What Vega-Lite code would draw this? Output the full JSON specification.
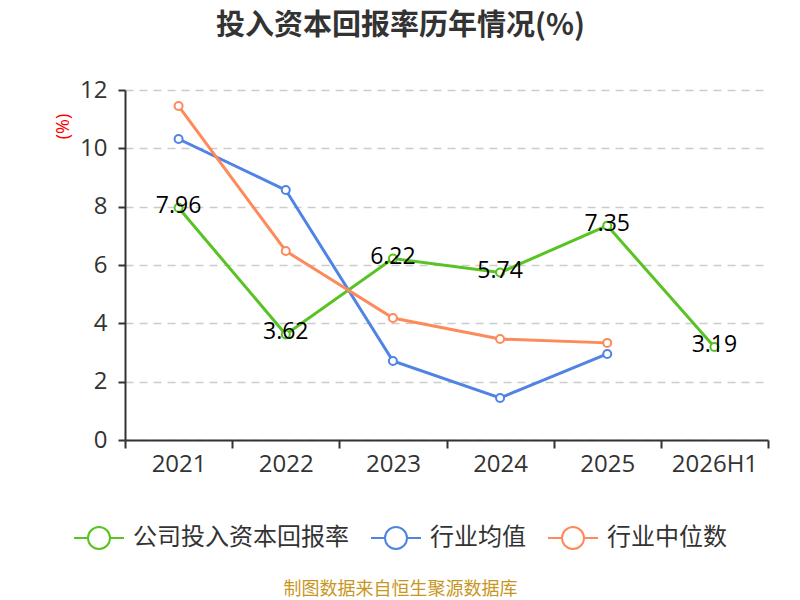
{
  "$schema": "https://vega.github.io/schema/vega-lite/v6.json",
  "width": 643,
  "height": 350,
  "autosize": {"type": "none"},
  "padding": {"left": 125, "top": 90, "right": 32, "bottom": 160},
  "background": "white",
  "title": {
    "text": "投入资本回报率历年情况(%)",
    "font": "Noto Sans CJK SC",
    "fontSize": 29,
    "fontWeight": "bold",
    "color": "#333333",
    "anchor": "middle",
    "frame": "group",
    "dx": -46,
    "offset": 37
  },
  "config": {
    "font": "Noto Sans CJK SC",
    "view": {"stroke": null}
  },
  "data": {
    "values": [
      {"year": "2021", "series": "公司投入资本回报率", "value": 7.96},
      {"year": "2022", "series": "公司投入资本回报率", "value": 3.62},
      {"year": "2023", "series": "公司投入资本回报率", "value": 6.22},
      {"year": "2024", "series": "公司投入资本回报率", "value": 5.74},
      {"year": "2025", "series": "公司投入资本回报率", "value": 7.35},
      {"year": "2026H1", "series": "公司投入资本回报率", "value": 3.19},
      {"year": "2021", "series": "行业均值", "value": 10.32},
      {"year": "2022", "series": "行业均值", "value": 8.57},
      {"year": "2023", "series": "行业均值", "value": 2.71},
      {"year": "2024", "series": "行业均值", "value": 1.44},
      {"year": "2025", "series": "行业均值", "value": 2.95},
      {"year": "2021", "series": "行业中位数", "value": 11.45},
      {"year": "2022", "series": "行业中位数", "value": 6.48},
      {"year": "2023", "series": "行业中位数", "value": 4.18},
      {"year": "2024", "series": "行业中位数", "value": 3.46},
      {"year": "2025", "series": "行业中位数", "value": 3.33}
    ]
  },
  "encoding": {
    "x": {
      "field": "year",
      "type": "nominal",
      "bandPosition": 0.5,
      "sort": ["2021", "2022", "2023", "2024", "2025", "2026H1"],
      "scale": {"type": "band", "paddingInner": 0, "paddingOuter": 0},
      "axis": {
        "title": "制图数据来自恒生聚源数据库",
        "titleFont": "Noto Sans CJK SC",
        "titleFontSize": 18,
        "titleFontWeight": "normal",
        "titleColor": "#c8961e",
        "titleX": 275,
        "titleY": 149,
        "titleBaseline": "middle",
        "labelAngle": 0,
        "labelFont": "Open Sans",
        "labelFontSize": 24,
        "labelColor": "#333333",
        "labelPadding": 4,
        "domainColor": "#333333",
        "domainWidth": 2,
        "tickColor": "#333333",
        "tickWidth": 2,
        "tickSize": 8,
        "tickBand": "extent",
        "grid": false
      }
    },
    "y": {
      "field": "value",
      "type": "quantitative",
      "scale": {"domain": [0, 12], "nice": false},
      "axis": {
        "values": [0, 2, 4, 6, 8, 10, 12],
        "title": "(%)",
        "titleFont": "Open Sans",
        "titleColor": "#ff0000",
        "titleFontSize": 18,
        "titleFontWeight": "normal",
        "titleX": -62,
        "titleY": 36,
        "titleAngle": 270,
        "titleAlign": "center",
        "titleBaseline": "middle",
        "labelFont": "Open Sans",
        "labelFontSize": 24,
        "labelColor": "#333333",
        "labelPadding": 11,
        "domainColor": "#333333",
        "domainWidth": 2,
        "tickColor": "#333333",
        "tickWidth": 2,
        "tickSize": 7,
        "gridColor": "#cccccc",
        "gridDash": [8, 6],
        "gridWidth": 1.5
      }
    },
    "color": {
      "field": "series",
      "type": "nominal",
      "scale": {
        "domain": ["公司投入资本回报率", "行业均值", "行业中位数"],
        "range": ["#58c322", "#4f83e4", "#fd8a5b"]
      },
      "legend": {
        "title": null,
        "orient": "none",
        "direction": "horizontal",
        "legendX": -52,
        "legendY": 422,
        "symbolType": "M-1,0H-0.44M0.44,0H1M0.44,0A0.44,0.44,0,1,1,-0.44,0A0.44,0.44,0,1,1,0.44,0Z",
        "symbolSize": 2500,
        "symbolStrokeWidth": 2,
        "symbolFillColor": "white",
        "labelFont": "Noto Sans CJK SC",
        "labelFontSize": 24,
        "labelColor": "#333333",
        "labelLimit": 0,
        "labelOffset": 8,
        "columnPadding": 18
      }
    }
  },
  "layer": [
    {
      "mark": {"type": "line", "strokeWidth": 3},
      "encoding": {
        "detail": {"field": "series"}
      }
    },
    {
      "mark": {
        "type": "point",
        "shape": "circle",
        "filled": false,
        "fill": "white",
        "fillOpacity": 1,
        "opacity": 1,
        "size": 64,
        "strokeWidth": 2
      }
    },
    {
      "transform": [{"filter": "datum.series === '公司投入资本回报率'"}],
      "mark": {
        "type": "text",
        "font": "Open Sans",
        "fontSize": 23,
        "color": "#000000",
        "align": "center",
        "baseline": "middle",
        "dy": -2
      },
      "encoding": {
        "text": {"field": "value", "type": "quantitative", "format": ".2f"},
        "color": {"value": "#000000"}
      }
    }
  ]
}
